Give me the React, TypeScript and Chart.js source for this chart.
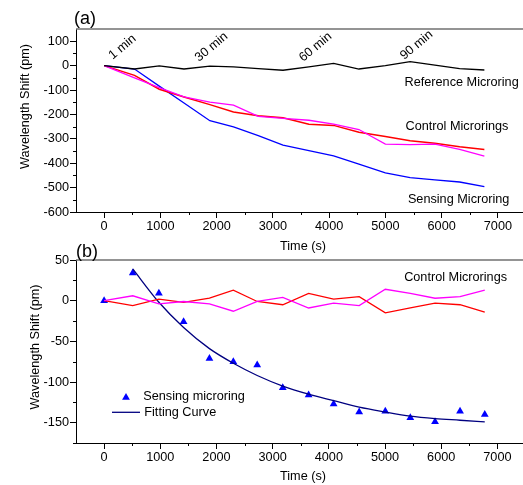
import React, { useEffect, useRef } from 'react';
import { Chart, registerables } from 'chart.js';
Chart.register(...registerables);

const FONT = '"Liberation Sans", Arial, Helvetica, sans-serif';
const FS = 12.7;

// ---------- Panel (a) ----------
const timesA = [0, 540, 980, 1420, 1880, 2300, 2740, 3180, 3640, 4080, 4530, 5000, 5440, 5880, 6320, 6760];
const referenceA = [0, -14, -1, -14, -2, -5, -12, -19, -5, 9, -14, 0, 16, 2, -12, -18];
const controlRedA = [0, -40, -97, -129, -160, -190, -206, -214, -240, -245, -273, -291, -308, -318, -333, -344];
const controlMagentaA = [0, -50, -90, -128, -150, -162, -208, -216, -224, -240, -262, -322, -324, -322, -343, -371];
const sensingA = [0, -14, -84, -153, -226, -251, -287, -326, -348, -370, -404, -440, -459, -468, -477, -496];
const yTicksA = [-600, -500, -400, -300, -200, -100, 0, 100];
const yMinorA = [-550, -450, -350, -250, -150, -50, 50];
const timeMarks = ['1 min', '30 min', '60 min', '90 min'];

// ---------- Panel (b) ----------
const timesB = [0, 510, 975, 1415, 1875, 2300, 2725, 3180, 3640, 4085, 4540, 5005, 5450, 5890, 6335, 6775];
const sensingB = [0, 34, 9, -26, -71, -75, -79, -107, -116, -127, -137, -136, -144, -149, -136, -140];
const fitTimesB = [510, 975, 1415, 1875, 2300, 2725, 3180, 3640, 4085, 4540, 5005, 5450, 5890, 6335, 6775];
const fitB = [39, -2, -33, -59, -77, -92, -105, -115, -123, -131, -137, -142, -145, -147, -149];
const controlRedB = [0, -6, 2, -2, 3, 13, -1, -5, 9, 2, 5, -15, -9, -3, -5, -14];
const controlMagentaB = [0, 6, -4, -1, -4, -13, -1, 4, -9, -3, -6, 14, 9, 3, 5, 13];
const yTicksB = [-150, -100, -50, 0, 50];
const yMinorB = [-175, -125, -75, -25, 25];

// ---------- Shared ----------
const xTicks = [0, 1000, 2000, 3000, 4000, 5000, 6000, 7000];
const xMinor = [500, 1500, 2500, 3500, 4500, 5500, 6500];

const pts = (xs: number[], ys: number[]) => xs.map((x, i) => ({ x, y: ys[i] }));

function font(size = FS) {
  return `${size}px ${FONT}`;
}

function makeScales(yMin: number, yMax: number, yTicks: number[], xHeight: number) {
  return {
    x: {
      type: 'linear',
      min: -500,
      max: 7500,
      afterBuildTicks: (s: any) => {
        s.ticks = xTicks.map((v) => ({ value: v }));
      },
      afterFit: (s: any) => {
        s.height = xHeight;
      },
      grid: { drawOnChartArea: false, drawTicks: true, tickLength: 6, color: '#000', lineWidth: 1 },
      border: { display: true, color: '#000', width: 1 },
      ticks: {
        font: { family: FONT, size: FS },
        color: '#000',
        padding: 1,
        maxRotation: 0,
        autoSkip: false,
        callback: (v: any) => String(v),
      },
    },
    y: {
      type: 'linear',
      min: yMin,
      max: yMax,
      afterBuildTicks: (s: any) => {
        s.ticks = yTicks.map((v) => ({ value: v }));
      },
      afterFit: (s: any) => {
        s.width = 76;
      },
      grid: { drawOnChartArea: false, drawTicks: true, tickLength: 6, color: '#000', lineWidth: 1 },
      border: { display: true, color: '#000', width: 1 },
      ticks: {
        font: { family: FONT, size: FS },
        color: '#000',
        padding: 1,
        autoSkip: false,
        callback: (v: any) => String(v),
      },
    },
  };
}

function frameAndMinor(chart: any, ctx: CanvasRenderingContext2D, yMinor: number[]) {
  const { left, right, top, bottom } = chart.chartArea;
  const xs = chart.scales.x;
  const ys = chart.scales.y;
  ctx.strokeStyle = '#707070';
  ctx.lineWidth = 1.5;
  ctx.beginPath();
  ctx.moveTo(left, top);
  ctx.lineTo(right, top);
  ctx.stroke();
  ctx.strokeStyle = '#000';
  ctx.lineWidth = 1;
  ctx.beginPath();
  xMinor.forEach((v) => {
    const px = Math.round(xs.getPixelForValue(v)) + 0.5;
    ctx.moveTo(px, bottom);
    ctx.lineTo(px, bottom + 3);
  });
  yMinor.forEach((v) => {
    const py = Math.round(ys.getPixelForValue(v)) + 0.5;
    ctx.moveTo(left - 3, py);
    ctx.lineTo(left, py);
  });
  ctx.stroke();
}

function axisTitles(chart: any, ctx: CanvasRenderingContext2D, yDx: number, yDy: number, xDy: number) {
  const { left, top, bottom } = chart.chartArea;
  ctx.fillStyle = '#000';
  ctx.font = font();
  ctx.textAlign = 'center';
  ctx.textBaseline = 'middle';
  ctx.fillText('Time (s)', left + 227, bottom + xDy);
  ctx.save();
  ctx.translate(left + yDx, (top + bottom) / 2 + yDy);
  ctx.rotate(-Math.PI / 2);
  ctx.fillText('Wavelength Shift (pm)', 0, 0);
  ctx.restore();
}

function ChartA() {
  const ref = useRef<HTMLCanvasElement>(null);
  useEffect(() => {
    const decor = {
      id: 'decorA',
      afterDraw(chart: any) {
        const ctx = chart.ctx as CanvasRenderingContext2D;
        const xs = chart.scales.x;
        const ys = chart.scales.y;
        const { left, top } = chart.chartArea;
        ctx.save();
        frameAndMinor(chart, ctx, yMinorA);
        axisTitles(chart, ctx, -50.5, -14, 34);
        ctx.fillStyle = '#000';
        ctx.font = `18px ${FONT}`;
        ctx.textAlign = 'left';
        ctx.textBaseline = 'middle';
        ctx.fillText('(a)', left - 2, top - 10);
        // time marks (rotated)
        const markPos = [
          [325, 76],
          [1908, 76],
          [3758, 76],
          [5554, 84],
        ];
        ctx.font = font();
        ctx.textAlign = 'center';
        timeMarks.forEach((t, i) => {
          ctx.save();
          ctx.translate(xs.getPixelForValue(markPos[i][0]), ys.getPixelForValue(markPos[i][1]));
          ctx.rotate((-40 * Math.PI) / 180);
          ctx.fillText(t, 0, 0);
          ctx.restore();
        });
        ctx.textAlign = 'left';
        ctx.fillText('Reference Microring', xs.getPixelForValue(5340), ys.getPixelForValue(-70));
        ctx.fillText('Control Microrings', xs.getPixelForValue(5358), ys.getPixelForValue(-248));
        ctx.fillText('Sensing Microring', xs.getPixelForValue(5400), ys.getPixelForValue(-549));
        ctx.restore();
      },
    };
    const lineDs = (label: string, data: number[], color: string, width = 1.3) => ({
      label,
      data: pts(timesA, data),
      borderColor: color,
      backgroundColor: color,
      borderWidth: width,
      pointRadius: 0,
      tension: 0,
      fill: false,
    });
    const chart = new Chart(ref.current!, {
      type: 'line',
      data: {
        datasets: [
          lineDs('Reference Microring', referenceA, '#000000'),
          lineDs('Control Microring 2', controlMagentaA, '#ff00ff'),
          lineDs('Control Microring 1', controlRedA, '#ff0000', 1.5),
          lineDs('Sensing Microring', sensingA, '#0000ff'),
        ],
      },
      options: {
        animation: false,
        responsive: false,
        layout: { padding: { left: 0, top: 29, right: 4, bottom: 0 } },
        plugins: { legend: { display: false }, tooltip: { enabled: false } },
        scales: makeScales(-600, 150, yTicksA, 43) as any,
      },
      plugins: [decor],
    });
    return () => chart.destroy();
  }, []);
  return <canvas ref={ref} width={530} height={255} style={{ position: 'absolute', left: 0, top: 0 }} />;
}

function ChartB() {
  const ref = useRef<HTMLCanvasElement>(null);
  useEffect(() => {
    const decor = {
      id: 'decorB',
      afterDraw(chart: any) {
        const ctx = chart.ctx as CanvasRenderingContext2D;
        const xs = chart.scales.x;
        const ys = chart.scales.y;
        const { left, top } = chart.chartArea;
        ctx.save();
        frameAndMinor(chart, ctx, yMinorB);
        axisTitles(chart, ctx, -40.2, -4.5, 33.7);
        ctx.fillStyle = '#000';
        ctx.font = `18px ${FONT}`;
        ctx.textAlign = 'left';
        ctx.textBaseline = 'middle';
        ctx.fillText('(b)', left, top - 8);
        ctx.font = font();
        ctx.fillText('Control Microrings', xs.getPixelForValue(5340), ys.getPixelForValue(28.6));
        // legend
        const ty = top + 136.7;
        const tx = left + 50;
        const r = 4.5;
        ctx.fillStyle = '#0000ff';
        ctx.beginPath();
        ctx.moveTo(tx, ty - r * 0.8);
        ctx.lineTo(tx + 0.866 * r, ty + r * 0.7);
        ctx.lineTo(tx - 0.866 * r, ty + r * 0.7);
        ctx.closePath();
        ctx.fill();
        ctx.fillStyle = '#000';
        ctx.fillText('Sensing microring', left + 67.3, ty);
        const ly = top + 152.3;
        ctx.strokeStyle = '#000080';
        ctx.lineWidth = 1.3;
        ctx.beginPath();
        ctx.moveTo(left + 36, ly);
        ctx.lineTo(left + 64, ly);
        ctx.stroke();
        ctx.fillText('Fitting Curve', left + 68.3, ly);
        ctx.restore();
      },
    };
    const chart = new Chart(ref.current!, {
      type: 'line',
      data: {
        datasets: [
          {
            label: 'Control Microring 2',
            data: pts(timesB, controlMagentaB),
            borderColor: '#ff00ff',
            borderWidth: 1.3,
            pointRadius: 0,
            fill: false,
          },
          {
            label: 'Control Microring 1',
            data: pts(timesB, controlRedB),
            borderColor: '#ff0000',
            borderWidth: 1.3,
            pointRadius: 0,
            fill: false,
          },
          {
            label: 'Fitting Curve',
            data: pts(fitTimesB, fitB),
            borderColor: '#000080',
            borderWidth: 1.3,
            pointRadius: 0,
            cubicInterpolationMode: 'monotone',
            fill: false,
          },
          {
            label: 'Sensing microring',
            data: pts(timesB, sensingB),
            showLine: false,
            pointStyle: 'triangle',
            pointRadius: 4.5,
            backgroundColor: '#0000ff',
            borderColor: '#0000ff',
            borderWidth: 0,
          },
        ] as any,
      },
      options: {
        animation: false,
        responsive: false,
        layout: { padding: { left: 0, top: 20, right: 4, bottom: 0 } },
        plugins: { legend: { display: false }, tooltip: { enabled: false } },
        scales: makeScales(-175, 50, yTicksB, 42) as any,
      },
      plugins: [decor],
    });
    return () => chart.destroy();
  }, []);
  return <canvas ref={ref} width={530} height={245} style={{ position: 'absolute', left: 0, top: 240 }} />;
}

export default function App() {
  return (
    <div style={{ position: 'absolute', left: 0, top: 0, width: 523, height: 485, overflow: 'hidden', background: '#fff' }}>
      <ChartA />
      <ChartB />
    </div>
  );
}
